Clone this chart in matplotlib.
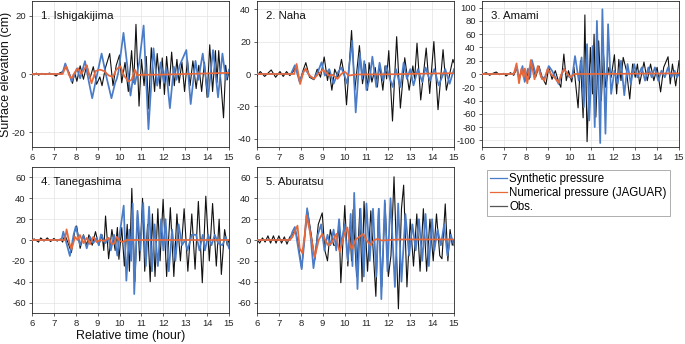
import matplotlib
matplotlib.use('Agg')
import matplotlib.pyplot as plt
from matplotlib.lines import Line2D

plt.rcParams['font.family'] = ['Liberation Sans', 'DejaVu Sans']
plt.rcParams['axes.unicode_minus'] = False

# ---------------- data (time in hours, elevation in cm) ----------------
station_names = ["1. Ishigakijima", "2. Naha", "3. Amami", "4. Tanegashima", "5. Aburatsu"]
legend_labels = ["Synthetic pressure", "Numerical pressure (JAGUAR)", "Obs."]
x_ticks = [6, 7, 8, 9, 10, 11, 12, 13, 14, 15]

obs_1 = [(6.0,0),(6.1,-0.3),(6.2,0.3),(6.3,-0.4),(6.45,0.2),(6.6,-0.2),(6.8,0.3),(7.0,-0.2),(7.1,-0.7),(7.25,0.3),(7.4,0.8),(7.55,2.3),(7.7,0.3),(7.85,-3.2),(7.95,0.5),(8.05,-2.5),(8.2,2.8),(8.35,-1.8),(8.5,3),(8.65,-1.5),(8.8,2.5),(8.95,-3.5),(9.1,-1),(9.2,-4),(9.35,2),(9.55,7),(9.7,-4),(9.85,3),(10.0,6.5),(10.1,-3),(10.25,4),(10.4,-6),(10.55,8),(10.65,-3),(10.75,17),(10.89,-11),(11.0,5),(11.12,-4),(11.22,6),(11.32,-12),(11.45,9),(11.6,-6),(11.72,7),(11.85,-5),(11.95,5.5),(12.05,-7),(12.15,6),(12.27,-4),(12.38,7.5),(12.5,-4),(12.62,5),(12.72,-3),(12.85,4),(12.97,-6),(13.1,5),(13.22,-4),(13.35,4.5),(13.5,-5),(13.62,3),(13.75,-6),(13.88,4),(14.0,-8),(14.12,10),(14.25,-6),(14.38,8),(14.45,-3),(14.53,8),(14.63,-3),(14.75,-15),(14.85,3),(14.92,-2),(15.0,1)]
syn_1 = [(6.0,0),(7.3,0),(7.4,0.5),(7.52,3.6),(7.68,0.5),(7.81,-2.6),(7.93,-0.5),(8.05,1.9),(8.2,-1.5),(8.42,4.4),(8.58,-2),(8.75,-8.3),(8.95,-1),(9.18,7),(9.4,-1),(9.63,-8.3),(9.8,-3),(9.88,-1.5),(9.95,0.8),(10.18,14.1),(10.35,3),(10.5,-7.4),(10.62,-1),(10.7,-3.5),(10.9,4),(11.1,16.6),(11.32,-18.9),(11.55,8.8),(11.72,-4),(11.88,4),(12.02,-3),(12.12,2),(12.3,-11.7),(12.48,2.5),(12.6,-2),(12.75,3),(13.05,8.2),(13.25,-10.3),(13.47,4.5),(13.6,-2),(13.8,7),(14.05,-7.8),(14.27,8.2),(14.5,-8),(14.7,7),(14.86,-2),(15.0,1.5)]
num_1 = [(6.0,0),(7.4,0),(7.55,2.7),(7.7,-0.5),(7.8,-1.5),(7.95,0.5),(8.1,2),(8.25,0),(8.5,3),(8.72,-3.2),(8.9,1),(9.1,1.5),(9.3,1),(9.5,-0.5),(9.7,-1),(9.85,1.5),(10.04,2.7),(10.2,-0.5),(10.4,-2.5),(10.55,-2),(10.7,1.5),(10.8,-0.5),(10.9,-0.3),(12.0,-0.2),(13.0,0),(14.0,0.2),(15.0,0.4)]

obs_2 = [(6.0,-1),(6.15,1.5),(6.35,-1.5),(6.5,0.5),(6.65,2.5),(6.85,-2),(7.05,1.5),(7.2,-1.5),(7.35,1.5),(7.5,-1),(7.65,1.5),(7.8,5),(7.95,-5),(8.1,2),(8.23,7),(8.4,-2),(8.6,-3.5),(8.75,3),(8.9,-2),(9.07,10.5),(9.22,-4),(9.3,2),(9.42,-10),(9.55,3),(9.7,-2),(9.86,9),(10.0,-2),(10.09,-19),(10.32,26.8),(10.47,-10),(10.68,17.5),(10.82,-6),(10.95,6),(11.05,-10),(11.12,7),(11.25,-5),(11.4,4),(11.5,-8),(11.6,6),(11.75,-10),(11.85,5),(11.92,-3),(12.02,14.4),(12.19,-29),(12.38,23),(12.55,-21),(12.75,10),(12.95,-10),(13.12,5),(13.2,-3),(13.31,19),(13.48,-16),(13.73,16),(13.89,-12),(14.08,20),(14.27,-22),(14.5,15),(14.65,-10),(14.85,3),(14.95,9),(15.0,7)]
syn_2 = [(6.0,0),(7.55,0),(7.73,5.4),(7.95,-5),(8.1,1),(8.2,3),(8.4,-1),(8.6,-3),(8.8,2),(8.95,7.2),(9.1,-1),(9.3,3),(9.5,-6),(9.7,1),(9.85,4),(10.0,-1),(10.12,-6),(10.35,20.6),(10.51,-23.7),(10.7,12.8),(10.8,-3),(10.9,8),(11.0,-9.9),(11.15,-3),(11.27,10.7),(11.45,-8),(11.6,7),(11.75,-4),(11.9,5),(12.05,-2),(12.2,-8),(12.35,3),(12.55,-8),(12.7,7),(12.85,-3),(13.0,3),(13.15,-7),(13.35,3),(13.55,-5),(13.7,4),(13.9,-4),(14.1,3),(14.3,-7),(14.45,-2),(14.6,3),(14.8,-6),(15.0,3)]
num_2 = [(6.0,0),(7.7,0),(7.81,6.2),(7.97,-6.2),(8.12,1),(8.23,3.5),(8.4,-1),(8.6,-3),(8.8,0),(9.0,2.5),(9.15,1),(9.3,-1),(9.45,-0.5),(9.68,-3),(9.85,0),(10.0,1.5),(10.2,-1),(10.5,-0.3),(12.0,-0.2),(13.5,0.2),(15.0,0.5)]

obs_3 = [(6.0,0),(6.2,2),(6.35,-2),(6.5,1),(6.65,3),(6.8,-1),(7.0,1),(7.1,-3),(7.3,2),(7.45,-2),(7.58,8),(7.7,-5),(7.85,5),(7.95,-10),(8.05,2),(8.15,-8),(8.26,19),(8.45,-5),(8.6,12),(8.75,-5),(8.92,-16),(9.05,10),(9.2,-8),(9.35,5),(9.5,-12),(9.6,-20),(9.74,30),(9.85,-10),(9.95,5),(10.1,-12),(10.2,10),(10.39,-51),(10.5,20),(10.62,-66),(10.7,89),(10.8,-102),(10.95,40),(11.05,-30),(11.12,60),(11.2,-65),(11.33,50),(11.45,-40),(11.55,30),(11.65,-20),(11.8,10),(11.9,-5),(12.05,29),(12.15,-30),(12.25,22),(12.35,-10),(12.45,25),(12.6,5),(12.75,-37.6),(12.88,15),(13.0,-5),(13.1,15),(13.2,-15),(13.4,18),(13.55,-10),(13.7,15),(13.85,-10),(14.0,10),(14.16,-27),(14.3,10),(14.5,26),(14.6,-15),(14.7,15),(14.85,-18),(15.0,20)]
syn_3 = [(6.0,0),(7.4,0),(7.5,3),(7.6,10),(7.7,-8),(7.85,12),(7.95,-12),(8.1,8),(8.2,-5),(8.28,21),(8.45,0),(8.6,10),(8.75,-8),(8.9,-3),(9.05,12),(9.2,5),(9.35,-5),(9.5,-15),(9.65,0),(9.75,8),(9.9,0),(10.0,-5),(10.12,-5),(10.25,27),(10.42,-10),(10.55,25),(10.65,-50),(10.8,45),(10.9,-70),(11.05,42),(11.15,-80),(11.25,80),(11.4,-104),(11.5,97.5),(11.64,-90),(11.76,75),(11.9,-30),(12.05,5),(12.2,-15),(12.35,20),(12.5,-32),(12.65,15),(12.8,-15),(12.95,15),(13.1,-5),(13.3,10),(13.45,-10),(13.6,10),(13.75,-5),(13.9,10),(14.05,-10),(14.2,5),(14.35,-5),(14.5,10),(14.65,-5),(14.8,5),(14.9,-5),(15.0,0)]
num_3 = [(6.0,0),(7.45,0),(7.58,16),(7.69,-14),(7.8,8),(7.9,-5),(7.96,8.4),(8.07,-14),(8.23,21),(8.4,-8),(8.55,12),(8.7,-5),(8.85,-10),(9.0,8),(9.15,0),(9.3,-5),(9.5,-13),(9.6,-2),(9.75,7.4),(9.9,0),(10.05,-5),(10.2,0),(11.0,0),(13.0,0.5),(15.0,1)]

obs_4 = [(6.0,0),(6.1,1),(6.3,-2),(6.4,2),(6.55,-1),(6.7,2),(6.85,-1.5),(7.0,1.5),(7.15,-1),(7.3,1),(7.4,-2),(7.5,5),(7.65,-3),(7.8,-12),(7.95,8),(8.04,13.4),(8.2,-8),(8.35,5),(8.5,-5),(8.6,5),(8.75,-5),(8.9,8),(9.05,-5),(9.2,5),(9.28,-10),(9.36,23),(9.5,-18),(9.65,10),(9.8,-10),(9.9,12),(9.97,-18.5),(10.1,12),(10.22,-25),(10.35,15),(10.45,-30),(10.56,49.5),(10.7,-40),(10.82,25),(10.92,-20),(11.05,40),(11.15,-30),(11.28,15),(11.4,-40),(11.5,25),(11.62,-35),(11.75,30),(11.85,-20),(11.99,39),(12.15,-35),(12.32,31),(12.48,-35),(12.62,25),(12.78,-20),(12.95,30),(13.12,-30),(13.3,25),(13.45,-28),(13.6,37),(13.78,-41),(13.94,42),(14.1,-20),(14.25,35),(14.42,-25),(14.55,20),(14.65,-33),(14.8,10),(14.92,-5),(15.0,0)]
syn_4 = [(6.0,0),(7.35,0),(7.43,8),(7.6,-5),(7.73,-15.3),(7.9,5),(8.0,13),(8.2,-5),(8.35,4),(8.5,-8),(8.65,3),(8.8,-3),(8.95,2),(9.05,-5),(9.15,5.4),(9.35,-3),(9.5,2),(9.6,-10),(9.75,5),(9.9,-15),(10.0,5),(10.19,33),(10.31,-39),(10.45,10),(10.53,-20),(10.6,35),(10.67,-51.8),(10.82,28),(10.95,-10),(11.08,35.5),(11.2,-25),(11.35,32),(11.48,-30),(11.6,15),(11.75,-25),(11.9,20),(12.0,-10),(12.1,20),(12.25,-30),(12.4,10),(12.55,-20),(12.7,15),(12.85,-5),(13.0,0),(13.1,-10),(13.3,5),(13.5,5),(13.65,-10),(13.8,5),(13.9,-10),(14.05,5),(14.2,-5),(14.35,5),(14.5,-3),(14.7,-5),(14.85,3),(15.0,-8)]
num_4 = [(6.0,0),(7.5,0),(7.58,10.2),(7.72,-4),(7.81,-8.6),(7.97,3),(8.08,0),(8.19,4.8),(8.35,-3),(8.5,2),(8.65,-4),(8.8,3),(8.95,-2),(9.1,0),(9.3,-1),(9.5,2),(9.65,-4),(9.76,-3),(9.86,3.2),(10.02,-1),(10.15,-2),(10.3,0),(15.0,0)]

obs_5 = [(6.0,1),(6.12,-3),(6.25,2),(6.37,-2),(6.5,4),(6.62,-3),(6.75,4),(6.87,-3),(7.0,4),(7.12,-3),(7.25,3),(7.37,-4),(7.5,3),(7.62,5),(7.75,10),(7.85,0),(7.96,-15),(8.04,-27),(8.18,5),(8.31,27.6),(8.48,5),(8.64,-19),(8.8,15),(8.98,26),(9.1,-10),(9.22,-20),(9.35,10),(9.5,-5),(9.65,-5),(9.75,15),(9.83,-41),(10.01,33),(10.15,-25),(10.25,10),(10.32,-20),(10.39,29),(10.55,-35),(10.7,30),(10.8,-40),(10.89,37),(11.05,-30),(11.2,28),(11.43,-54),(11.55,30),(11.7,-45),(11.85,35),(12.0,-35),(12.12,-15),(12.26,60.6),(12.46,-66),(12.6,30),(12.7,52.6),(12.85,-45),(13.0,20),(13.15,-25),(13.3,25),(13.45,-30),(13.6,30),(13.75,-30),(13.9,20),(14.05,-20),(14.2,25),(14.35,-15),(14.45,-18),(14.6,34.6),(14.72,-20),(14.82,10),(14.92,-5),(15.0,0)]
syn_5 = [(6.0,0),(7.5,0),(7.62,8),(7.73,12.5),(7.9,-10),(8.04,-28),(8.17,0),(8.29,30.5),(8.42,10),(8.58,-27),(8.78,5),(8.93,15),(9.08,-10),(9.22,5),(9.35,-5),(9.5,10),(9.62,-10),(9.75,20),(9.85,-5),(10.0,15),(10.15,-20),(10.28,25),(10.36,-25),(10.44,45.2),(10.59,-47),(10.73,30),(10.88,-35),(11.0,35),(11.15,-20),(11.3,30),(11.45,-35),(11.57,30),(11.68,-56.7),(11.84,38),(11.96,-30),(12.1,40),(12.3,-45),(12.45,35),(12.6,-40),(12.78,25),(12.95,-15),(13.1,15),(13.25,-10),(13.4,20),(13.55,-20),(13.7,25),(13.85,-25),(14.0,20),(14.1,-10),(14.25,10),(14.4,-5),(14.55,15),(14.7,-15),(14.85,5),(15.0,-5)]
num_5 = [(6.0,0),(7.5,0),(7.62,3),(7.85,13.8),(7.95,-8),(8.07,-12.5),(8.18,5),(8.26,23.4),(8.45,5),(8.64,-16.3),(8.82,0),(8.98,5.8),(9.12,0),(9.25,-5),(9.4,-3),(9.63,6),(9.7,-5),(9.78,-11.5),(9.98,5),(10.13,12),(10.25,-5),(10.33,-8.3),(10.5,0),(10.6,2),(10.85,5.8),(11.0,0),(11.18,-4.8),(11.35,0),(11.5,1),(11.7,-0.5),(12.0,0),(12.5,0.5),(15.0,0.5)]

y_limits = [(-25, 25), (-45, 45), (-110, 110), (-70, 70), (-70, 70)]
y_ticks = [[-20, 0, 20], [-40, -20, 0, 20, 40], list(range(-100, 101, 20)),
           list(range(-60, 61, 20)), list(range(-60, 61, 20))]

# ---------------- styling ----------------
C_SYN = '#4a7cc7'
C_NUM = '#e8683a'
C_OBS = '#111111'
C_AX = '#262626'

W, H = 685.0, 344.0
boxes = [(32, 1, 229, 147), (257, 1, 454, 147), (482, 1, 679, 147),
         (32, 167, 229, 313), (257, 167, 454, 313)]

fig = plt.figure(figsize=(6.85, 3.44), dpi=100)

series = [(obs_1, syn_1, num_1), (obs_2, syn_2, num_2), (obs_3, syn_3, num_3),
          (obs_4, syn_4, num_4), (obs_5, syn_5, num_5)]

for i, (x0, y0, x1, y1) in enumerate(boxes):
    ax = fig.add_axes([x0 / W, 1 - y1 / H, (x1 - x0) / W, (y1 - y0) / H])
    obs, syn, num = series[i]
    ax.plot([p[0] for p in obs], [p[1] for p in obs], color=C_OBS, lw=0.8,
            zorder=3, solid_joinstyle='round')
    ax.plot([p[0] for p in syn], [p[1] for p in syn], color=C_SYN, lw=1.25,
            zorder=4, solid_joinstyle='round')
    ax.plot([p[0] for p in num], [p[1] for p in num], color=C_NUM, lw=1.25,
            zorder=5, solid_joinstyle='round')
    ax.set_xlim(6, 15)
    ax.set_ylim(*y_limits[i])
    ax.set_xticks(x_ticks)
    ax.set_yticks(y_ticks[i])
    ax.grid(True, color='#e3e3e3', lw=0.5, zorder=0)
    ax.set_axisbelow(True)
    ax.tick_params(direction='out', length=2.5, width=0.5, labelsize=6.8,
                   colors=C_AX, pad=2)
    for s in ax.spines.values():
        s.set_linewidth(0.6)
        s.set_color(C_AX)
    ax.text(0.045, 0.895, station_names[i], transform=ax.transAxes,
            fontsize=8.2, va='center', ha='left', color='#111111', zorder=6)

fig.text(6 / W, 1 - 74 / H, "Surface elevation (cm)", rotation=90,
         ha='center', va='center', fontsize=9, color='#111111')
fig.text(130.5 / W, 1 - 336 / H, "Relative time (hour)",
         ha='center', va='center', fontsize=9, color='#111111')

handles = [Line2D([], [], color=C_SYN, lw=0.9),
           Line2D([], [], color=C_NUM, lw=0.9),
           Line2D([], [], color='#555555', lw=0.9)]
leg = fig.legend(handles, legend_labels, loc='upper left',
                 bbox_to_anchor=(487 / W, 1 - 170 / H), fontsize=8.3,
                 frameon=True, fancybox=False, borderpad=0.25, labelspacing=0.2,
                 handlelength=1.5, handletextpad=0.2, borderaxespad=0)
leg.get_frame().set_edgecolor('#8a8a8a')
leg.get_frame().set_linewidth(0.6)

fig.savefig('out.png', dpi=100)
